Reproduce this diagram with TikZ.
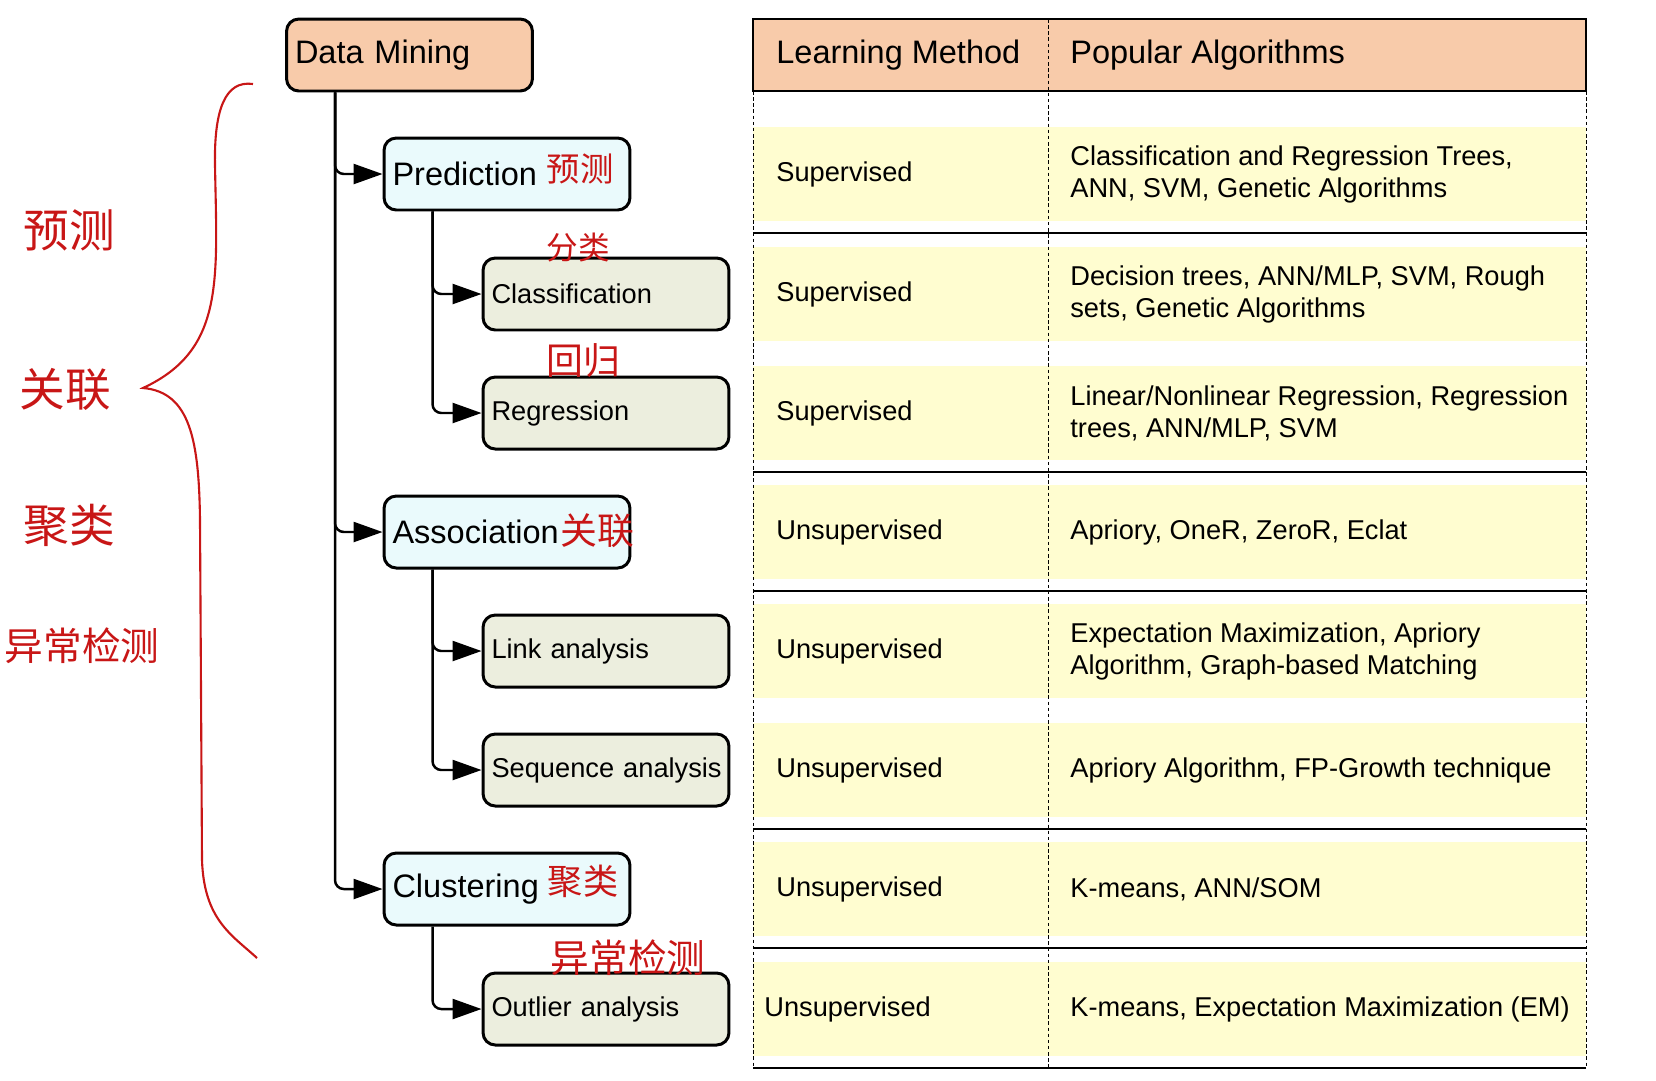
\documentclass[tikz,border=0pt]{standalone}
\usepackage{fontspec}
\setmainfont{Liberation Sans}
\newfontfamily\cjk{Noto Sans CJK SC}
\usepackage{xcolor}
\usepackage{tikz}
\usetikzlibrary{arrows.meta}

\definecolor{dmorange}{RGB}{248,203,170}
\definecolor{boxcyan}{RGB}{234,250,252}
\definecolor{boxbeige}{RGB}{236,238,222}
\definecolor{cellyellow}{RGB}{255,253,208}
\definecolor{inkred}{RGB}{200,22,22}

\begin{document}
\begin{tikzpicture}[x=0.02cm,y=-0.02cm,
  big/.style={font=\fontsize{18.5}{22}\selectfont},
  small/.style={font=\fontsize{15.5}{18.2}\selectfont},
  box/.style={draw=black,line width=1.7pt,rounded corners=7pt,minimum height=1.44cm,text width=4.58cm,align=left,inner xsep=0.17cm},
  root/.style={box,fill=dmorange,big},
  task/.style={box,fill=boxcyan,big},
  sub/.style={box,fill=boxbeige,small},
  link/.style={line width=1.4pt,rounded corners=5pt,-{Triangle[length=0.58cm,width=0.4cm]}},
  ink/.style={text=inkred,font=\cjk\fontsize{#1}{#1}\selectfont},
  cell/.style={small,anchor=west,align=left,inner xsep=0pt},
  rowline/.style={line width=1.3pt},
  coldiv/.style={line width=0.5pt,dash pattern=on 2pt off 1.5pt}]
\useasboundingbox (0,0) rectangle (1656,1080);

\fill[cellyellow] (753,127) rectangle (1586,221);
\fill[cellyellow] (753,247) rectangle (1586,341);
\fill[cellyellow] (753,366) rectangle (1586,460);
\fill[cellyellow] (753,485) rectangle (1586,579);
\fill[cellyellow] (753,604) rectangle (1586,698);
\fill[cellyellow] (753,723) rectangle (1586,817);
\fill[cellyellow] (753,842) rectangle (1586,936);
\fill[cellyellow] (753,962) rectangle (1586,1056);
\draw[rowline,fill=dmorange] (753,19) rectangle (1586,91);
\draw[coldiv] (753,91) -- (753,1068);
\draw[coldiv] (1048,19) -- (1048,1068);
\draw[coldiv] (1586,91) -- (1586,1068);
\draw[rowline] (753,233) -- (1586,233);
\draw[rowline] (753,472) -- (1586,472);
\draw[rowline] (753,591) -- (1586,591);
\draw[rowline] (753,829) -- (1586,829);
\draw[rowline] (753,948) -- (1586,948);
\draw[rowline] (753,1068) -- (1586,1068);

\node[cell,big] (hm) at (776,55) {Learning Method};
\node[cell,big] (ha) at (1070,55) {Popular Algorithms};
\node[cell] (m1) at (776,174) {Supervised};
\node[cell] (a1) at (1070,174) {Classification and Regression Trees,\\ANN, SVM, Genetic Algorithms};
\node[cell] (m2) at (776,294) {Supervised};
\node[cell] (a2) at (1070,294) {Decision trees, ANN/MLP, SVM, Rough\\sets, Genetic Algorithms};
\node[cell] (m3) at (776,413) {Supervised};
\node[cell] (a3) at (1070,413) {Linear/Nonlinear Regression, Regression\\trees, ANN/MLP, SVM};
\node[cell] (m4) at (776,532) {Unsupervised};
\node[cell] (a4) at (1070,532) {Apriory, OneR, ZeroR, Eclat};
\node[cell] (m5) at (776,651) {Unsupervised};
\node[cell] (a5) at (1070,651) {Expectation Maximization, Apriory\\Algorithm, Graph-based Matching};
\node[cell] (m6) at (776,770) {Unsupervised};
\node[cell] (a6) at (1070,770) {Apriory Algorithm, FP-Growth technique};
\node[cell] (m7) at (776,889) {Unsupervised};
\node[cell] (a7) at (1070,889) {K-means, ANN/SOM};
\node[cell] (m8) at (764,1009) {Unsupervised};
\node[cell] (a8) at (1070,1009) {K-means, Expectation Maximization (EM)};

\node[root] (dm) at (409.5,55) {Data Mining};
\node[task] (pred) at (507,174) {Prediction};
\node[sub] (cls) at (606,294) {Classification};
\node[sub] (reg) at (606,413) {Regression};
\node[task] (assoc) at (507,532) {Association};
\node[sub] (lnk) at (606,651) {Link analysis};
\node[sub] (seq) at (606,770) {\mbox{Sequence analysis}};
\node[task] (clu) at (507,889) {Clustering};
\node[sub] (outl) at (606,1009) {Outlier analysis};

\draw[link] ([xshift=1cm]dm.south west) |- (pred.west);
\draw[link] ([xshift=1cm]dm.south west) |- (assoc.west);
\draw[link] ([xshift=1cm]dm.south west) |- (clu.west);
\draw[link] ([xshift=1cm]pred.south west) |- (cls.west);
\draw[link] ([xshift=1cm]pred.south west) |- (reg.west);
\draw[link] ([xshift=1cm]assoc.south west) |- (lnk.west);
\draw[link] ([xshift=1cm]assoc.south west) |- (seq.west);
\draw[link] ([xshift=1cm]clu.south west) |- (outl.west);

\node[ink=19] (predzh) at (580,169) {预测};
\node[ink=18] (clszh) at (578,248) {分类};
\node[ink=21] (regzh) at (583,361) {回归};
\node[ink=21] (assoczh) at (597,531) {关联};
\node[ink=20] (cluzh) at (583,881) {聚类};
\node[ink=22] (outlzh) at (628,958) {异常检测};

\draw[inkred,line width=1.2pt] (253,84) .. controls (225,80) and (214,110) .. (215,165) .. controls (217,280) and (225,350) .. (143,388) .. controls (190,392) and (199,440) .. (200,520) -- (202,860) .. controls (204,920) and (232,935) .. (257,958);
\node[ink=26] (lpred) at (69,230) {预测};
\node[ink=26] (lassoc) at (65,389) {关联};
\node[ink=26] (lclu) at (69,525) {聚类};
\node[ink=22] (loutl) at (82,646) {异常检测};
\end{tikzpicture}
\end{document}
